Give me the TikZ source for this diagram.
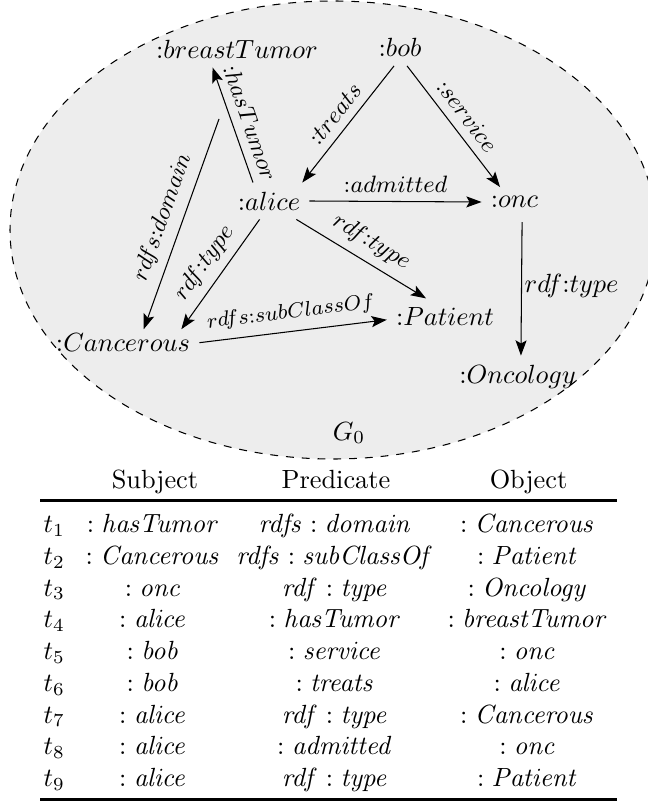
\documentclass[tikz,border=0pt]{standalone}
\usetikzlibrary{arrows.meta}
\begin{document}
\begin{tikzpicture}[x=0.38pt,y=-0.38pt,
  vertex/.style={inner sep=3.333pt},
  arr/.style={-{Stealth[length=5.8pt,width=4.2pt,inset=1.2pt]}, line width=0.4pt},
  lab/.style={sloped, above, midway, font=\small},
  cell/.style={anchor=base, inner sep=0pt},
  rul/.style={line width=0.8pt}]
\useasboundingbox (0,0) rectangle (648,803);
% graph region
\path[fill=black!7, draw=black, dashed, line width=0.4pt] (333,230) ellipse [x radius=122.74pt, y radius=87.02pt];
\node[vertex] (bt) at (237,49) {${:}breastTumor$};
\node[vertex] (bob) at (400,47.5) {${:}bob$};
\node[vertex] (alice) at (269,201) {${:}alice$};
\node[vertex] (onc) at (514.5,202) {${:}onc$};
\node[vertex, inner ysep=1.5pt] (canc) at (123,342.7) {${:}Cancerous$};
\node[vertex] (pat) at (445,316.7) {${:}Patient$};
\node[vertex] (onco) at (517.6,376.6) {${:}Oncology$};
\node (g0) at (349,433) {$G_0$};
\coordinate (dom) at (219,119);
% edges
\draw[arr] (alice.131) -- node[lab, pos=0.47] {${:}hasTumor$} (bt.217);
\draw[arr] (dom) -- node[lab] {$rdfs{:}domain$} (canc.33);
\draw[arr] (bob.252) -- node[lab] {${:}treats$} (alice.29);
\draw[arr] (bob.291) -- node[lab] {${:}service$} (onc.134);
\draw[arr] (alice.east) -- node[above, font=\small] {${:}admitted$} (onc.west);
\draw[arr] (alice.326) -- node[lab] {$rdf{:}type$} (pat.136);
\draw[arr] (alice.243) -- node[lab] {$rdf{:}type$} (canc.13);
\draw[arr] (canc.east) -- node[lab, font=\footnotesize] {$rdfs{:}subClassOf$} (pat.183);
\draw[arr, shorten <=2pt] (onc.297) -- node[midway, right, inner xsep=1pt] {$rdf{:}type$} (onco.81);
% table
\node[cell] (hs) at (155,488) {Subject};
\node[cell] (hp) at (336,488) {Predicate};
\node[cell] (ho) at (528.5,488) {Object};
\coordinate (r1l) at (40,500.5);
\coordinate (r1r) at (617,500.5);
\coordinate (r2l) at (40,799.5);
\coordinate (r2r) at (617,799.5);
\draw[rul] (r1l) -- (r1r);
\draw[rul] (r2l) -- (r2r);
\foreach [count=\i] \sub/\pre/\obj in {
  {:\mathit{hasTumor}}/{\mathit{rdfs}:\mathit{domain}}/{:\mathit{Cancerous}},
  {:\mathit{Cancerous}}/{\mathit{rdfs}:\mathit{subClassOf}}/{:\mathit{Patient}},
  {:\mathit{onc}}/{\mathit{rdf}:\mathit{type}}/{:\mathit{Oncology}},
  {:\mathit{alice}}/{:\mathit{hasTumor}}/{:\mathit{breastTumor}},
  {:\mathit{bob}}/{:\mathit{service}}/{:\mathit{onc}},
  {:\mathit{bob}}/{:\mathit{treats}}/{:\mathit{alice}},
  {:\mathit{alice}}/{\mathit{rdf}:\mathit{type}}/{:\mathit{Cancerous}},
  {:\mathit{alice}}/{:\mathit{admitted}}/{:\mathit{onc}},
  {:\mathit{alice}}/{\mathit{rdf}:\mathit{type}}/{:\mathit{Patient}}}
{
  \pgfmathsetmacro\yy{532.5+31.75*(\i-1)}
  \node[cell, anchor=base west] (t\i) at (43,\yy) {$t_{\i}$};
  \node[cell] (s\i) at (153,\yy) {$\sub$};
  \node[cell] (p\i) at (335,\yy) {$\pre$};
  \node[cell] (o\i) at (527.5,\yy) {$\obj$};
}
\end{tikzpicture}
\end{document}
